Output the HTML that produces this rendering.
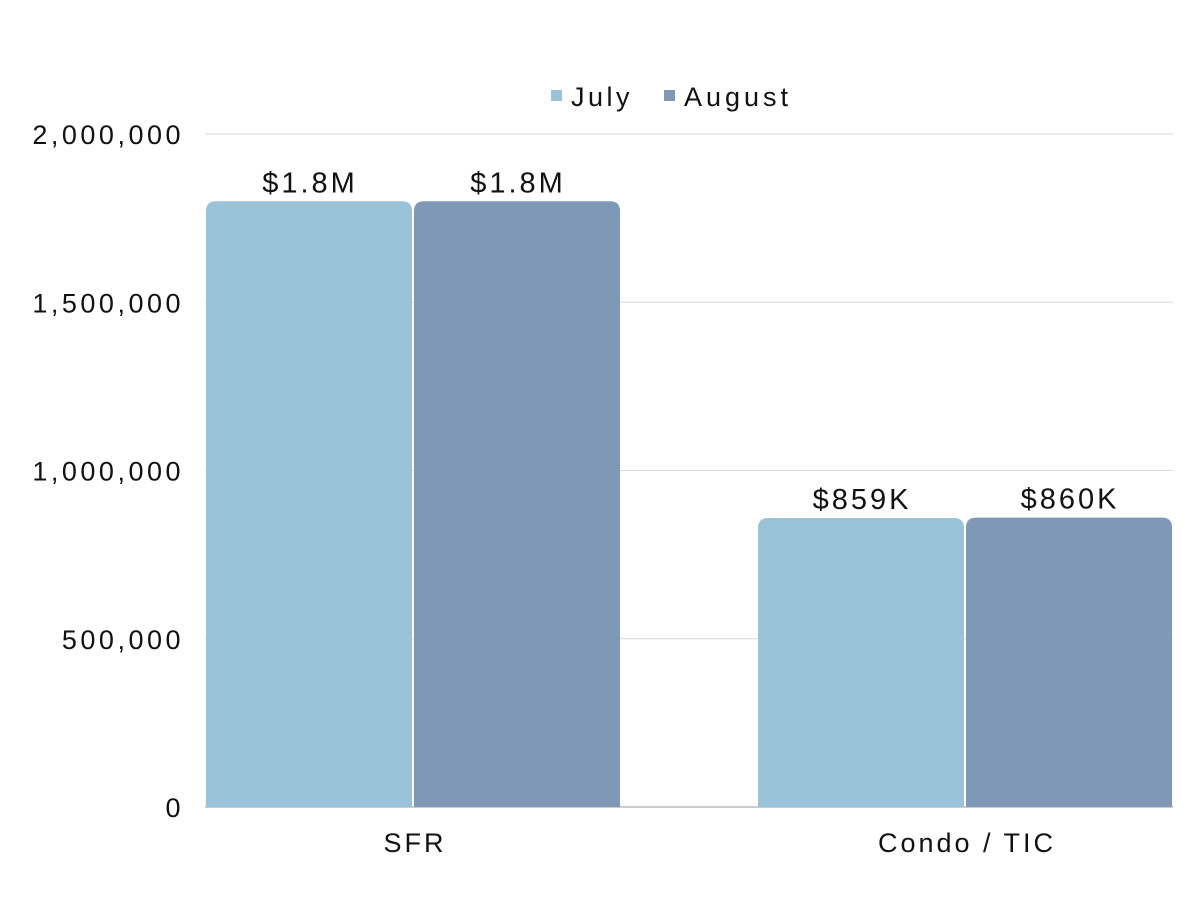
<!DOCTYPE html>
<html><head><meta charset="utf-8"><style>
body{margin:0;background:#fff;}
svg text{font-family:"Liberation Sans",sans-serif;letter-spacing:3px;}
</style></head><body>
<svg id="chart" width="1200" height="900">
<g id="grid"></g><g id="bars"></g><g id="labels"></g>
<g>
<rect x="551" y="90" width="11" height="11" fill="#9AC2D8"/>
<text x="571" y="106" font-size="27" fill="#111" style="letter-spacing:3.5px">July</text>
<rect x="664" y="90" width="11" height="11" fill="#7F98B5"/>
<text x="684" y="106" font-size="27" fill="#111" style="letter-spacing:4px">August</text>
</g>
</svg>
<script>
const categories = ["SFR", "Condo / TIC"];
const julyValues = [1800000, 859000];
const augustValues = [1800000, 860000];
const valueLabelsJuly = ["$1.8M", "$859K"];
const valueLabelsAugust = ["$1.8M", "$860K"];
const tickValues = [0, 500000, 1000000, 1500000, 2000000];
const tickLabels = ["0", "500,000", "1,000,000", "1,500,000", "2,000,000"];

const NS = "http://www.w3.org/2000/svg";
const x0 = 205, x1 = 1173, yBase = 807, yTop = 134, vMax = 2000000;
const y = v => yBase - (v / vMax) * (yBase - yTop);
const catCenter = i => 413 + i * 552;
const barW = 206, gap = 2, r = 10;
function mk(tag, attrs, parent) {
  const e = document.createElementNS(NS, tag);
  for (const k in attrs) e.setAttribute(k, attrs[k]);
  parent.appendChild(e); return e;
}
const grid = document.getElementById('grid'), bars = document.getElementById('bars'), labels = document.getElementById('labels');
tickValues.forEach((v, i) => {
  const l = mk('line', {x1: x0, x2: x1, y1: y(v), y2: y(v), stroke: i === 0 ? '#999' : '#d9d9d9', 'stroke-width': 1}, grid);
  
  
  const t = mk('text', {x: 184, y: y(v) + 10, 'font-size': 27, 'text-anchor': 'end', fill: '#111', style: 'letter-spacing:3.5px'}, labels);
  t.textContent = tickLabels[i];
  
  
});
function bar(xl, v, color, label, name) {
  const top = y(v), w = barW;
  const d = `M${xl},${yBase} L${xl},${top + r} Q${xl},${top} ${xl + r},${top} L${xl + w - r},${top} Q${xl + w},${top} ${xl + w},${top + r} L${xl + w},${yBase} Z`;
  const p = mk('path', {d: d, fill: color}, bars);
  
  
  const t = mk('text', {x: xl + w / 2 + 1, y: top - 9, 'font-size': 29, 'text-anchor': 'middle', fill: '#111'}, labels);
  t.textContent = label;
  
  
}
categories.forEach((c, i) => {
  const cx = catCenter(i);
  bar(cx - barW - gap / 2, julyValues[i], '#9AC2D8', valueLabelsJuly[i], 'bar-july');
  bar(cx + gap / 2, augustValues[i], '#7F98B5', valueLabelsAugust[i], 'bar-august');
  const t = mk('text', {x: cx + 2, y: 852, 'font-size': 27, 'text-anchor': 'middle', fill: '#111'}, labels);
  t.textContent = c;
  
  
});
</script>
</body></html>
